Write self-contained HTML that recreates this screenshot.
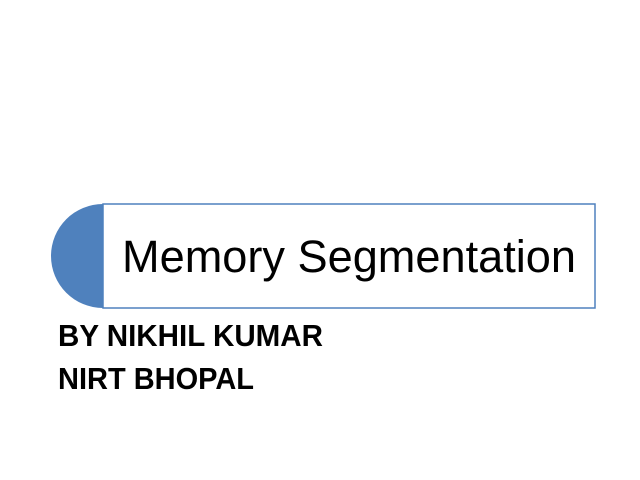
<!DOCTYPE html>
<html><head><style>html,body{margin:0;padding:0;background:#fff;width:640px;height:480px;overflow:hidden}</style></head>
<body>
<svg width="640" height="480" xmlns="http://www.w3.org/2000/svg">
<rect width="640" height="480" fill="#fff"/>
<path d="M103,204 A52,52 0 0 0 103,308 Z" fill="#4f81bd"/>
<rect x="103" y="204" width="492" height="104" fill="#fff" stroke="#4f81bd" stroke-width="1.5"/>
<text x="122" y="272" font-family="Liberation Sans, sans-serif" font-size="45" textLength="454" lengthAdjust="spacingAndGlyphs" fill="#000">Memory Segmentation</text>
<text x="58" y="346" font-family="Liberation Sans, sans-serif" font-weight="bold" font-size="31" textLength="265" lengthAdjust="spacingAndGlyphs" fill="#000">BY NIKHIL KUMAR</text>
<text x="58" y="389" font-family="Liberation Sans, sans-serif" font-weight="bold" font-size="31" textLength="196" lengthAdjust="spacingAndGlyphs" fill="#000">NIRT BHOPAL</text>
</svg>
</body></html>
